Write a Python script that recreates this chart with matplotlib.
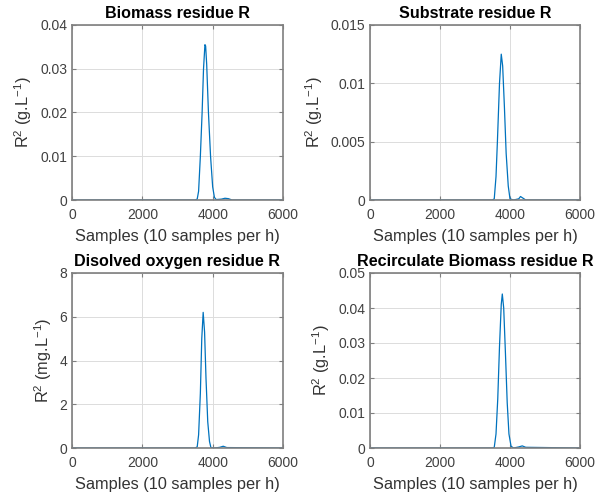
import matplotlib.pyplot as plt

plt.rcParams['font.family'] = ['Liberation Sans', 'DejaVu Sans']
plt.rcParams['mathtext.fontset'] = 'custom'
plt.rcParams['mathtext.rm'] = 'Liberation Sans'
plt.rcParams['mathtext.it'] = 'Liberation Sans:italic'

# Biomass residue
x_bio = [0, 1000, 2000, 3000, 3500, 3560, 3600, 3650, 3700, 3740, 3780, 3800, 3830,
         3880, 3940, 4000, 4050, 4100, 4250, 4350, 4450, 4550, 6000]
y_bio = [0, 0, 0, 0, 0, 0.0002, 0.002, 0.010, 0.020, 0.030, 0.0355, 0.0352, 0.031,
         0.020, 0.010, 0.003, 0.0006, 0.0001, 0.0002, 0.0004, 0.0003, 0.0, 0]

# Substrate residue
x_sub = [0, 3500, 3550, 3600, 3640, 3700, 3750, 3790, 3840, 3890, 3950, 4000, 4100,
         4250, 4300, 4350, 4450, 6000]
y_sub = [0, 0, 0.0001, 0.002, 0.005, 0.010, 0.0125, 0.0115, 0.008, 0.004, 0.0012,
         0.0001, 0, 0.0001, 0.0003, 0.0002, 0, 0]

# Disolved oxygen residue
x_do = [0, 3500, 3560, 3600, 3650, 3690, 3730, 3770, 3810, 3860, 3910, 3950, 4050,
        4200, 4300, 4400, 6000]
y_do = [0, 0, 0.05, 0.6, 2.5, 5.0, 6.2, 5.3, 3.2, 1.2, 0.3, 0.02, 0, 0.03, 0.08, 0.02, 0]

# Recirculate biomass residue
x_rec = [0, 3500, 3550, 3600, 3650, 3700, 3750, 3780, 3820, 3870, 3920, 3970, 4030,
         4100, 4250, 4350, 4450, 6000]
y_rec = [0, 0, 0.0002, 0.004, 0.014, 0.029, 0.041, 0.044, 0.040, 0.027, 0.013, 0.004,
         0.0005, 0, 0.0003, 0.0006, 0.0002, 0]

panels = [
    (x_bio, y_bio, 'Biomass residue R', r'R$^2$ (g.L$^{-1}$)', [0, 0.01, 0.02, 0.03, 0.04],
     ['0', '0.01', '0.02', '0.03', '0.04']),
    (x_sub, y_sub, 'Substrate residue R', r'R$^2$ (g.L$^{-1}$)', [0, 0.005, 0.01, 0.015],
     ['0', '0.005', '0.01', '0.015']),
    (x_do, y_do, 'Disolved oxygen residue R', r'R$^2$ (mg.L$^{-1}$)', [0, 2, 4, 6, 8],
     ['0', '2', '4', '6', '8']),
    (x_rec, y_rec, 'Recirculate Biomass residue R', r'R$^2$ (g.L$^{-1}$)',
     [0, 0.01, 0.02, 0.03, 0.04, 0.05], ['0', '0.01', '0.02', '0.03', '0.04', '0.05']),
]

positions = [
    [72 / 605, 1 - 200 / 496, 211 / 605, 175 / 496],
    [370 / 605, 1 - 200 / 496, 210 / 605, 175 / 496],
    [72 / 605, 1 - 448 / 496, 211 / 605, 175 / 496],
    [370 / 605, 1 - 448 / 496, 210 / 605, 175 / 496],
]

fig = plt.figure(figsize=(6.05, 4.96), dpi=100)
for pos, (x, y, title, ylabel, yt, ytl) in zip(positions, panels):
    ax = fig.add_axes(pos)
    ax.plot(x, y, color='#0072BD', lw=0.9)
    ax.set_xlim(0, 6000)
    ax.set_ylim(yt[0], yt[-1])
    ax.set_xticks([0, 2000, 4000, 6000])
    ax.set_yticks(yt)
    ax.set_yticklabels(ytl)
    ax.grid(True, color='#dcdcdc', lw=0.7)
    ax.set_axisbelow(True)
    for s in ax.spines.values():
        s.set_color('#7f7f7f')
        s.set_linewidth(1.2)
    ax.tick_params(direction='in', length=3, width=0.8, color='#7f7f7f',
                   labelcolor='#404040', labelsize=10, top=True, right=True)
    ax.tick_params(axis='x', pad=6)
    ax.set_title(title, fontsize=11.6, fontweight='bold', pad=5)
    ax.set_xlabel('Samples (10 samples per h)', fontsize=11.8, color='#333333', labelpad=5)
    ax.set_ylabel(ylabel, fontsize=11.8, color='#333333', labelpad=4)

plt.savefig('out.png', dpi=100)
